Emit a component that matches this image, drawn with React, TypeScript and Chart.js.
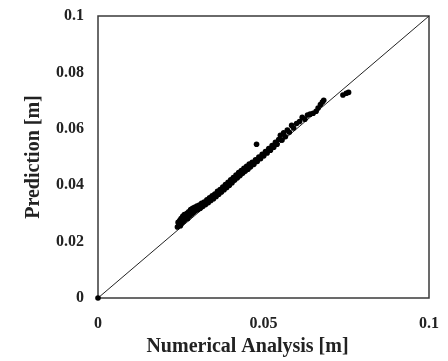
import React, { useEffect, useRef } from "react";
import { Chart, registerables } from "chart.js";

Chart.register(...registerables);

const xTickValues = [0, 0.05, 0.1];
const xTickLabels = ["0", "0.05", "0.1"];
const yTickValues = [0, 0.02, 0.04, 0.06, 0.08, 0.1];
const yTickLabels = ["0", "0.02", "0.04", "0.06", "0.08", "0.1"];

const xTitle = "Numerical Analysis [m]";
const yTitle = "Prediction [m]";

const lineX = [0, 0.1];
const lineY = [0, 0.1];

const numericalAnalysis = [
  0.0, 0.024, 0.0242, 0.0245, 0.0247, 0.0249, 0.0251, 0.0253, 0.0256, 0.0258, 0.0261,
  0.0263, 0.0266, 0.0269, 0.0271, 0.0274, 0.0277, 0.028, 0.0283, 0.0286, 0.0289,
  0.0292, 0.0295, 0.0299, 0.0302, 0.0306, 0.0309, 0.0313, 0.0317, 0.0321, 0.0325,
  0.0329, 0.0333, 0.0337, 0.0341, 0.0345, 0.0349, 0.0353, 0.0357, 0.0361, 0.0365,
  0.0369, 0.0373, 0.0377, 0.0381, 0.0385, 0.0389, 0.0393, 0.0397, 0.0401, 0.0405,
  0.0409, 0.0413, 0.0417, 0.0421, 0.0425, 0.0429, 0.0433, 0.0437, 0.0441, 0.0445,
  0.0449, 0.0453, 0.0457, 0.0461, 0.0466, 0.0471, 0.0476, 0.0479, 0.0481, 0.0486,
  0.0491, 0.0496, 0.0501, 0.0506, 0.0511, 0.0516, 0.0521, 0.0526, 0.0531, 0.0536,
  0.0541, 0.0546, 0.0551, 0.0556, 0.0561, 0.0566, 0.0572, 0.0578, 0.0585, 0.0591,
  0.06, 0.0609, 0.0617, 0.0625, 0.0633, 0.0641, 0.065, 0.0659, 0.0665, 0.0672,
  0.0678, 0.0682, 0.074, 0.075, 0.0757,
];

const prediction = [
  0.0, 0.0252, 0.0268, 0.026, 0.0275, 0.0256, 0.0282, 0.0266, 0.029, 0.0272, 0.0296,
  0.0278, 0.0288, 0.03, 0.0282, 0.0306, 0.0292, 0.0314, 0.0298, 0.0318, 0.0304,
  0.0322, 0.031, 0.0326, 0.0314, 0.033, 0.0318, 0.0336, 0.0325, 0.034, 0.0332,
  0.0348, 0.0338, 0.0355, 0.0346, 0.0362, 0.0352, 0.0369, 0.036, 0.0378, 0.0368,
  0.0385, 0.0376, 0.0393, 0.0384, 0.0402, 0.0392, 0.041, 0.04, 0.0419, 0.0409,
  0.0427, 0.0418, 0.0436, 0.0426, 0.0445, 0.0434, 0.0452, 0.0442, 0.046, 0.045,
  0.0467, 0.0457, 0.0475, 0.0465, 0.0481, 0.0474, 0.049, 0.0545, 0.0484, 0.05,
  0.0494, 0.051, 0.0504, 0.0519, 0.0514, 0.053, 0.0524, 0.0541, 0.0535, 0.0552,
  0.0545, 0.0562, 0.0577, 0.056, 0.0586, 0.0572, 0.0596, 0.0588, 0.0612, 0.0603,
  0.0619, 0.0626, 0.0641, 0.0634, 0.0649, 0.0652, 0.0655, 0.0662, 0.0674, 0.0686,
  0.0695, 0.0701, 0.072, 0.0726, 0.0729,
];

const FONT = "'Liberation Serif', 'Times New Roman', serif";
const TEXT_COLOR = "#222";

const framePlugin = {
  id: "frame",
  beforeDatasetsDraw(chart: any) {
    const { ctx, chartArea } = chart;
    ctx.save();
    ctx.strokeStyle = "#3a3a3a";
    ctx.lineWidth = 1.5;
    ctx.strokeRect(
      chartArea.left,
      chartArea.top,
      chartArea.right - chartArea.left,
      chartArea.bottom - chartArea.top
    );
    ctx.restore();
  },
  afterDraw(chart: any) {
    const { ctx, chartArea } = chart;
    ctx.save();
    ctx.font = `bold 20px ${FONT}`;
    ctx.fillStyle = TEXT_COLOR;
    ctx.textAlign = "center";
    ctx.textBaseline = "middle";
    ctx.fillText(xTitle, (chartArea.left + chartArea.right) / 2 - 16, chartArea.bottom + 49);
    ctx.restore();
  },
};

const zeroPadding = (scale: any) => {
  scale.paddingTop = 0;
  scale.paddingBottom = 0;
  scale.paddingLeft = 0;
  scale.paddingRight = 0;
};

export default function App() {
  const canvasRef = useRef<HTMLCanvasElement | null>(null);

  useEffect(() => {
    if (!canvasRef.current) return;
    const points = numericalAnalysis.map((x, i) => ({ x, y: prediction[i] }));
    const linePts = lineX.map((x, i) => ({ x, y: lineY[i] }));

    const chart = new Chart(canvasRef.current, {
      type: "scatter",
      data: {
        datasets: [
          {
            label: "Data",
            data: points,
            backgroundColor: "#000",
            borderColor: "#000",
            pointRadius: 2.8,
            pointBorderWidth: 0,
            clip: false,
          } as any,
          {
            type: "line",
            label: "Line",
            data: linePts,
            borderColor: "#222",
            borderWidth: 1,
            pointRadius: 0,
            showLine: true,
            fill: false,
          } as any,
        ],
      },
      options: {
        responsive: false,
        animation: false,
        events: [],
        layout: { padding: { top: 16, right: 19, left: 0, bottom: 0 } },
        plugins: {
          legend: { display: false },
          tooltip: { enabled: false },
        },
        scales: {
          x: {
            type: "linear",
            min: 0,
            max: 0.1,
            afterBuildTicks: (scale: any) => {
              scale.ticks = xTickValues.map((v) => ({ value: v }));
            },
            afterFit: (scale: any) => {
              scale.height = 63;
              zeroPadding(scale);
            },
            grid: { display: false, drawTicks: false },
            border: { display: false },
            ticks: {
              padding: 16,
              maxRotation: 0,
              color: TEXT_COLOR,
              font: { family: FONT, size: 16, weight: "bold" },
              callback: (_v: any, i: number) => xTickLabels[i],
            },
            title: { display: false },
          },
          y: {
            type: "linear",
            min: 0,
            max: 0.1,
            afterBuildTicks: (scale: any) => {
              scale.ticks = yTickValues.map((v) => ({ value: v }));
            },
            afterFit: (scale: any) => {
              scale.width = 98;
              zeroPadding(scale);
            },
            grid: { display: false, drawTicks: false },
            border: { display: false },
            ticks: {
              padding: 14,
              color: TEXT_COLOR,
              font: { family: FONT, size: 16, weight: "bold" },
              callback: (_v: any, i: number) => yTickLabels[i],
            },
            title: {
              display: true,
              text: yTitle,
              color: TEXT_COLOR,
              font: { family: FONT, size: 20, weight: "bold" },
              padding: { top: 22, bottom: 0 },
            },
          },
        },
      },
      plugins: [framePlugin],
    });
    return () => chart.destroy();
  }, []);

  return (
    <div style={{ position: "fixed", left: 0, top: 0, width: 448, height: 361, background: "#fff" }}>
      <canvas ref={canvasRef} width={448} height={361} style={{ width: 448, height: 361, display: "block" }} />
    </div>
  );
}
